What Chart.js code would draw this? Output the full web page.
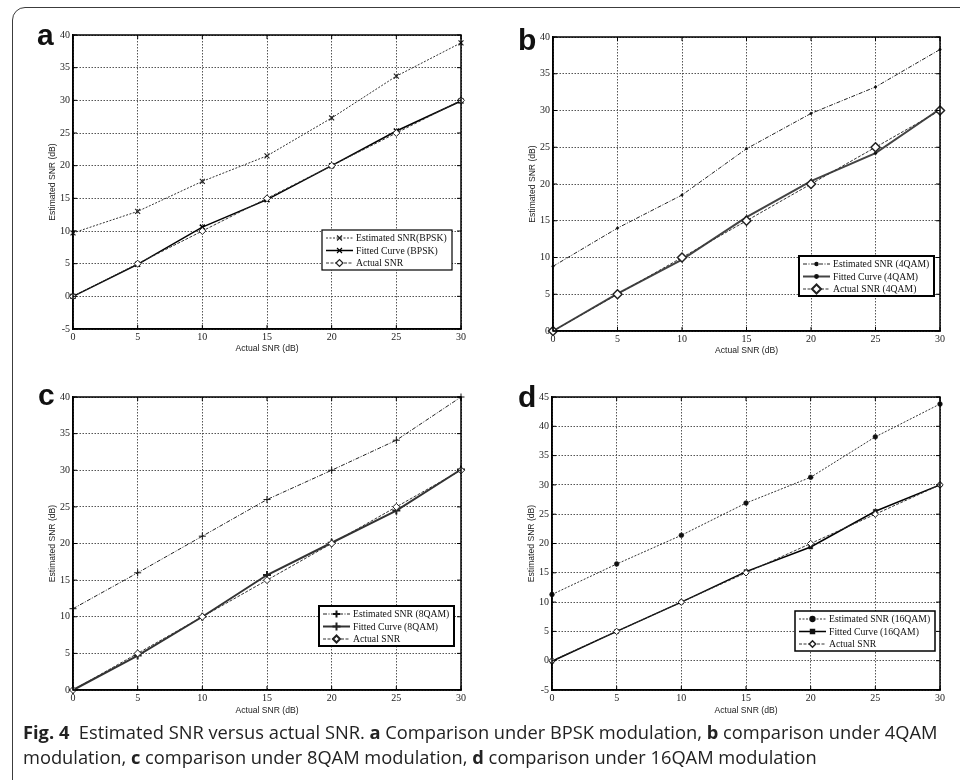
<!DOCTYPE html>
<html><head><meta charset="utf-8">
<script src="https://cdn.jsdelivr.net/npm/chart.js@4/dist/chart.umd.min.js"></script>
<style>
html,body{margin:0;padding:0;background:#fff;}
body{width:960px;height:780px;position:relative;overflow:hidden;}
#frame{position:absolute;left:12px;top:7px;width:990px;height:800px;border:1.5px solid #3c3c3c;border-radius:13px;box-sizing:border-box;}
.panel{position:absolute;width:480px;height:360px;}
.panel canvas{position:absolute;left:0;top:0;}
.lett{position:absolute;font:bold 30px "Liberation Sans",Arial,sans-serif;line-height:30px;color:#111;}
#cap{position:absolute;left:23px;top:719px;font-family:"Open Sans",sans-serif;font-size:18.3px;line-height:25px;color:#222;white-space:nowrap;}
</style></head>
<body>
<div id="frame"></div>
<div class="panel" style="left:0;top:0"><canvas id="ca" width="480" height="360"></canvas></div>
<div class="panel" style="left:480px;top:0"><canvas id="cb" width="480" height="360"></canvas></div>
<div class="panel" style="left:0;top:360px"><canvas id="cc" width="480" height="360"></canvas></div>
<div class="panel" style="left:480px;top:360px"><canvas id="cd" width="480" height="360"></canvas></div>
<div class="lett" style="left:37px;top:20px">a</div>
<div class="lett" style="left:518px;top:25px">b</div>
<div class="lett" style="left:38px;top:380px">c</div>
<div class="lett" style="left:518px;top:382px">d</div>
<div id="cap"><b>Fig. 4</b>&nbsp; Estimated SNR versus actual SNR. <b>a</b> Comparison under BPSK modulation, <b>b</b> comparison under 4QAM<br>modulation, <b>c</b> comparison under 8QAM modulation, <b>d</b> comparison under 16QAM modulation</div>
<script>
// ---- data ----
const actualSNR = [0, 5, 10, 15, 20, 25, 30];
const xTickStep = 5;

const estBPSK = [9.7, 13.0, 17.6, 21.5, 27.3, 33.7, 38.8];
const fitBPSK = [0, 4.9, 10.6, 14.8, 20.0, 25.3, 29.9];
const actBPSK = [0, 5, 10, 15, 20, 25, 30];

const est4QAM = [8.8, 14.0, 18.5, 24.8, 29.6, 33.2, 38.3];
const fit4QAM = [0, 5.1, 9.7, 15.5, 20.4, 24.2, 30.2];
const act4QAM = [0, 5, 10, 15, 20, 25, 30];

const est8QAM = [11.1, 16.0, 21.0, 26.0, 30.0, 34.1, 40.0];
const fit8QAM = [0, 4.7, 10.0, 15.7, 20.1, 24.5, 30.1];
const act8QAM = [0, 5, 10, 15, 20, 25, 30];

const est16QAM = [11.3, 16.5, 21.4, 26.9, 31.3, 38.2, 43.8];
const fit16QAM = [-0.1, 5.0, 10.0, 15.2, 19.4, 25.5, 30.0];
const act16QAM = [0, 5, 10, 15, 20, 25, 30];

const yRangeA = [-5, 40], yRangeB = [0, 40], yRangeC = [0, 40], yRangeD = [-5, 45];
const labelsA = ['Estimated SNR(BPSK)', 'Fitted Curve (BPSK)', 'Actual SNR'];
const labelsB = ['Estimated SNR (4QAM)', 'Fitted Curve (4QAM)', 'Actual SNR (4QAM)'];
const labelsC = ['Estimated SNR (8QAM)', 'Fitted Curve (8QAM)', 'Actual SNR'];
const labelsD = ['Estimated SNR (16QAM)', 'Fitted Curve (16QAM)', 'Actual SNR'];
const xTitle = 'Actual SNR (dB)', yTitle = 'Estimated SNR (dB)';

// ---- helpers ----
const pts = ys => ys.map((y, i) => ({x: actualSNR[i], y}));

function drawMarker(ctx, ds, x, y) {
  ctx.save();
  ctx.setLineDash([]);
  ctx.fillStyle = ds.pointBackgroundColor;
  ctx.strokeStyle = ds.pointBorderColor;
  Chart.helpers.drawPoint(ctx, {pointStyle: ds.pointStyle, rotation: 0, radius: ds.pointRadius, borderWidth: ds.pointBorderWidth}, x, y);
  ctx.restore();
}

const framePlugin = {
  id: 'frame',
  afterDraw(chart, args, opts) {
    const {ctx, chartArea: a, scales} = chart;
    ctx.save();
    ctx.strokeStyle = '#000';
    ctx.setLineDash([]);
    ctx.lineWidth = 1;
    const tl = 4;
    const seg = (x1, y1, x2, y2) => { ctx.beginPath(); ctx.moveTo(x1, y1); ctx.lineTo(x2, y2); ctx.stroke(); };
    scales.x.ticks.forEach(t => { const p = scales.x.getPixelForValue(t.value); seg(p, a.bottom, p, a.bottom - tl); seg(p, a.top, p, a.top + tl); });
    scales.y.ticks.forEach(t => { const p = scales.y.getPixelForValue(t.value); seg(a.left, p, a.left + tl, p); seg(a.right, p, a.right - tl, p); });
    ctx.lineWidth = 1.5;
    ctx.strokeRect(a.left, a.top, a.right - a.left, a.bottom - a.top);
    // legend box
    const L = opts.legend;
    if (L) {
      ctx.fillStyle = '#fff';
      ctx.fillRect(L.x, L.y, L.w, L.h);
      ctx.lineWidth = L.lw;
      ctx.strokeStyle = '#000';
      ctx.strokeRect(L.x, L.y, L.w, L.h);
      chart.data.datasets.forEach((ds, i) => {
        const ry = L.y + L.first + i * L.gap;
        ctx.save();
        ctx.strokeStyle = ds.borderColor;
        ctx.lineWidth = ds.borderWidth;
        ctx.setLineDash(ds.borderDash || []);
        seg(L.x + 4, ry, L.x + 31, ry);
        ctx.restore();
        drawMarker(ctx, ds, L.x + 17.5, ry);
        ctx.fillStyle = '#111';
        ctx.font = '9.7px "Liberation Serif", "Times New Roman", serif';
        ctx.textBaseline = 'middle';
        ctx.textAlign = 'left';
        ctx.fillText(ds.label, L.x + 34, ry + 0.5);
      });
    }
    ctx.restore();
  }
};

function makeChart(id, datasets, yr, pad, xH, yW, legend) {
  const tickFont = {family: '"Liberation Serif", "Times New Roman", serif', size: 10};
  const titleFont = {family: '"Liberation Sans", Arial, sans-serif', size: 8.6, lineHeight: 1.2};
  const gridCommon = {color: '#555', lineWidth: 1, drawTicks: false};
  const borderCommon = {display: true, color: '#000', width: 1.5, dash: [1.5, 1.5]};
  return new Chart(document.getElementById(id), {
    type: 'line',
    data: {datasets},
    options: {
      responsive: false,
      animation: false,
      devicePixelRatio: 1,
      layout: {padding: pad},
      plugins: {legend: {display: false}, tooltip: {enabled: false}, frame: {legend}},
      scales: {
        x: {
          type: 'linear', min: actualSNR[0], max: actualSNR[actualSNR.length - 1],
          grid: gridCommon, border: borderCommon,
          ticks: {stepSize: xTickStep, font: tickFont, color: '#222', padding: 2, maxRotation: 0, autoSkip: false},
          title: {display: true, text: xTitle, font: titleFont, color: '#222', padding: {top: 0, bottom: 0}},
          afterFit: s => { s.height = xH; }
        },
        y: {
          min: yr[0], max: yr[1],
          grid: gridCommon, border: borderCommon,
          ticks: {stepSize: 5, font: tickFont, color: '#222', padding: 3, autoSkip: false},
          title: {display: true, text: yTitle, font: titleFont, color: '#222', padding: {top: 2, bottom: 0}},
          afterFit: s => { s.width = yW; }
        }
      }
    },
    plugins: [framePlugin]
  });
}

function ds(label, data, o) {
  return Object.assign({
    label, data: pts(data), fill: false, tension: 0, clip: false,
    borderColor: '#111', borderWidth: 1, borderDash: [],
    pointStyle: 'circle', pointRadius: 3, pointBorderWidth: 1,
    pointBackgroundColor: '#111', pointBorderColor: '#111'
  }, o);
}

// a: BPSK
makeChart('ca', [
  ds(labelsA[0], estBPSK, {borderColor: '#333', borderDash: [2, 1.5], pointStyle: 'crossRot', pointRadius: 3.5, pointBorderWidth: 1.2, pointBorderColor: '#222', order: 2}),
  ds(labelsA[1], fitBPSK, {borderColor: '#000', borderWidth: 1.5, pointStyle: 'crossRot', pointRadius: 3.5, pointBorderWidth: 1.5, pointBorderColor: '#000', order: 1}),
  ds(labelsA[2], actBPSK, {borderColor: '#333', borderDash: [3, 1.5], pointStyle: 'rectRot', pointRadius: 3.5, pointBackgroundColor: '#fff', pointBorderColor: '#222', order: 0})
], yRangeA, {left: 45, right: 19, top: 35, bottom: 6}, 25, 28,
  {x: 322, y: 230, w: 130, h: 40, lw: 1.2, first: 8, gap: 12.5});

// b: 4QAM
makeChart('cb', [
  ds(labelsB[0], est4QAM, {borderColor: '#222', borderDash: [4, 1.5, 1, 1.5], pointStyle: 'circle', pointRadius: 1.2, pointBorderWidth: 0.5, order: 2}),
  ds(labelsB[1], fit4QAM, {borderColor: '#444', borderWidth: 2, pointStyle: 'circle', pointRadius: 1.4, pointBorderWidth: 0.5, order: 1}),
  ds(labelsB[2], act4QAM, {borderColor: '#333', borderDash: [3, 1.5], pointStyle: 'rectRot', pointRadius: 4.5, pointBorderWidth: 1.5, pointBackgroundColor: '#fff', pointBorderColor: '#222', order: 0})
], yRangeB, {left: 45, right: 20, top: 37, bottom: 4}, 25, 28,
  {x: 319, y: 256, w: 135, h: 40, lw: 2, first: 8, gap: 12.5});

// c: 8QAM
makeChart('cc', [
  ds(labelsC[0], est8QAM, {borderColor: '#222', borderDash: [4, 1.5, 1, 1.5], pointStyle: 'cross', pointRadius: 3.5, pointBorderWidth: 1, order: 2}),
  ds(labelsC[1], fit8QAM, {borderColor: '#333', borderWidth: 2, pointStyle: 'cross', pointRadius: 4, pointBorderWidth: 2, pointBorderColor: '#222', order: 1}),
  ds(labelsC[2], act8QAM, {borderColor: '#333', borderDash: [3, 1.5], pointStyle: 'rectRot', pointRadius: 3.5, pointBackgroundColor: '#fff', pointBorderColor: '#222', order: 0})
], yRangeC, {left: 45, right: 19, top: 37, bottom: 4}, 26, 28,
  {x: 319, y: 246, w: 135, h: 40, lw: 2, first: 8, gap: 12.5});

// d: 16QAM
makeChart('cd', [
  ds(labelsD[0], est16QAM, {borderColor: '#333', borderDash: [2, 1.5], pointStyle: 'circle', pointRadius: 2.4, pointBorderWidth: 0.5, order: 2}),
  ds(labelsD[1], fit16QAM, {borderColor: '#000', borderWidth: 1.5, pointStyle: 'rect', pointRadius: 2.8, pointBorderWidth: 0.5, order: 1}),
  ds(labelsD[2], act16QAM, {borderColor: '#333', borderDash: [3, 1.5], pointStyle: 'rectRot', pointRadius: 3.2, pointBackgroundColor: '#fff', pointBorderColor: '#222', order: 0})
], yRangeD, {left: 44, right: 20, top: 37, bottom: 4}, 26, 28,
  {x: 315, y: 251, w: 140, h: 40, lw: 1.5, first: 8, gap: 12.5});
</script>
</body></html>
